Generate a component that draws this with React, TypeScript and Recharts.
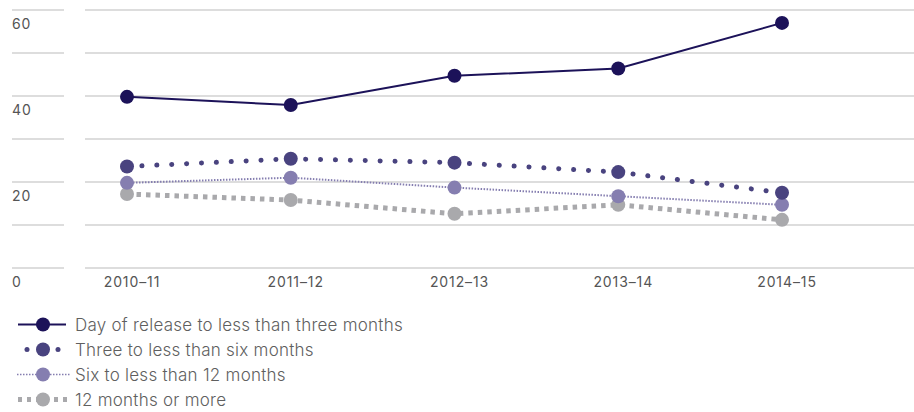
import React from 'react';
import { LineChart, Line, XAxis, YAxis, CartesianGrid } from 'recharts';

const categories = ['2010–11', '2011–12', '2012–13', '2013–14', '2014–15'];
const dayOfRelease = [39.8, 37.9, 44.7, 46.4, 57.0];
const threeToSix = [23.6, 25.4, 24.5, 22.3, 17.5];
const sixToTwelve = [19.8, 21.0, 18.7, 16.7, 14.7];
const twelvePlus = [17.2, 15.8, 12.6, 14.7, 11.2];
const yTicks = [0, 10, 20, 30, 40, 50, 60];
const yLabels = [0, 20, 40, 60];

const seriesNames = [
  'Day of release to less than three months',
  'Three to less than six months',
  'Six to less than 12 months',
  '12 months or more',
];

const data = categories.map((cat, i) => ({
  i,
  cat,
  a: dayOfRelease[i],
  b: threeToSix[i],
  c: sixToTwelve[i],
  d: twelvePlus[i],
}));

const C1 = '#1c1259';
const C2 = '#49437f';
const C3 = '#857eb0';
const C4 = '#a9a9ac';
const GRID = '#d2d2d2';
const FONT = 'Inter, "Noto Sans", sans-serif';

const YTick = (props: any) => {
  const { y, payload } = props;
  const v = payload.value;
  return (
    <g>
      <line x1={12} x2={64} y1={y} y2={y} stroke={GRID} strokeWidth={1.5} />
      {yLabels.includes(v) && (
        <text x={12} y={y + 15} dominantBaseline="middle" fontSize={14} letterSpacing={0.9} fill="#555" fontFamily={FONT}>
          {v}
        </text>
      )}
    </g>
  );
};

const XTick = (props: any) => {
  const { x, payload } = props;
  return (
    <text x={x + 5} y={283} textAnchor="middle" dominantBaseline="middle" fontSize={14} letterSpacing={0.9} fill="#555" fontFamily={FONT}>
      {categories[payload.value]}
    </text>
  );
};

const Icon = ({ idx }: { idx: number }) => {
  if (idx === 0) {
    return (
      <svg width={72} height={25}>
        <line x1={18} x2={66} y1={12.5} y2={12.5} stroke={C1} strokeWidth={2} />
        <circle cx={43} cy={12.5} r={7} fill={C1} />
      </svg>
    );
  }
  if (idx === 1) {
    return (
      <svg width={72} height={25}>
        <circle cx={27} cy={12.5} r={2.5} fill={C2} />
        <circle cx={43} cy={12.5} r={7} fill={C2} />
        <circle cx={58} cy={12.5} r={2.5} fill={C2} />
      </svg>
    );
  }
  if (idx === 2) {
    return (
      <svg width={72} height={25}>
        <line x1={17} x2={70} y1={12.5} y2={12.5} stroke={C3} strokeWidth={1.5} strokeDasharray="1.5 1.5" />
        <circle cx={43} cy={12.5} r={7} fill={C3} />
      </svg>
    );
  }
  return (
    <svg width={72} height={25}>
      <line x1={18} x2={68} y1={12.5} y2={12.5} stroke={C4} strokeWidth={5} strokeDasharray="4 5" />
      <circle cx={43} cy={12.5} r={7} fill={C4} />
    </svg>
  );
};

const LegendBlock = () => (
  <div style={{ position: 'absolute', left: 0, top: 312, fontFamily: FONT, fontSize: 17, letterSpacing: 0.25, fontWeight: 300, color: '#5f5f5f' }}>
    {seriesNames.map((n, idx) => (
      <div key={n} style={{ display: 'flex', alignItems: 'center', height: 25 }}>
        <Icon idx={idx} />
        <span style={{ marginLeft: 3 }}>{n}</span>
      </div>
    ))}
  </div>
);

export default function App() {
  return (
    <div style={{ position: 'absolute', left: 0, top: 0, width: 914, height: 412, background: '#fff' }}>
      <LineChart width={914} height={412} data={data} margin={{ top: 10, right: 0, bottom: 114, left: 0 }}>
        <CartesianGrid horizontal vertical={false} stroke={GRID} strokeWidth={1.5} />
        <XAxis
          dataKey="i"
          type="number"
          domain={[-0.2565, 4.806]}
          ticks={[0, 1, 2, 3, 4]}
          allowDataOverflow
          axisLine={false}
          tickLine={false}
          tick={<XTick />}
          height={30}
        />
        <YAxis
          type="number"
          domain={[0, 60]}
          ticks={yTicks}
          axisLine={false}
          tickLine={false}
          width={85}
          tick={<YTick />}
        />
        <Line dataKey="d" stroke={C4} strokeWidth={5} strokeDasharray="4.5 5" dot={{ r: 7, fill: C4, stroke: 'none' }} isAnimationActive={false} />
        <Line dataKey="c" stroke={C3} strokeWidth={2} strokeDasharray="1.5 1.5" dot={{ r: 7, fill: C3, stroke: 'none' }} isAnimationActive={false} />
        <Line dataKey="b" stroke={C2} strokeWidth={5} strokeLinecap="round" strokeDasharray="0.1 14.8" dot={{ r: 7, fill: C2, stroke: 'none' }} isAnimationActive={false} />
        <Line dataKey="a" stroke={C1} strokeWidth={2} dot={{ r: 7, fill: C1, stroke: 'none' }} isAnimationActive={false} />
      </LineChart>
      <LegendBlock />
    </div>
  );
}
